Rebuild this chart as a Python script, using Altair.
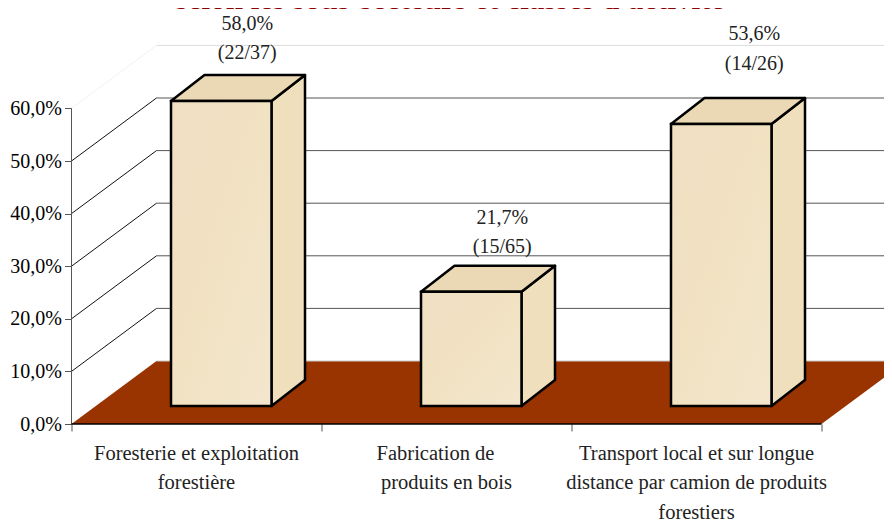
import altair as alt
import pandas as pd

# --- values ---
categories = [["Foresterie et exploitation", "forestière"],
              ["Fabrication de", "produits en bois"],
              ["Transport local et sur longue", "distance par camion de produits", "forestiers"]]
values = [58.0, 21.7, 53.6]
counts = ["(22/37)", "(15/65)", "(14/26)"]
y_ticks = [0, 10, 20, 30, 40, 50, 60]
x_ticks = [0, 1, 2, 3]
title_text = "selon les sous-secteurs et classes d'activité"

# --- layout (pixels) ---
PX_X, PX_Y = 250.0, 5.26
W, H = 812.5, 416.0
WALL_DX, WALL_DY = 85 / PX_X, 63 / PX_Y
BAR_DX, BAR_DY = 33.5 / PX_X, 26 / PX_Y
BAR_LEFT, BAR_W = 99.5 / PX_X, 100.5 / PX_X
BAR_BASE = 18 / PX_Y
label_dx = [26, 31, 33]
label_lift = [61, 58, 74]
cat_shift = {"Fabrication de": -11}
CAT_TOP, CAT_LINE = 19.5, 29.5

SERIF = "Liberation Serif"
x_scale = alt.Scale(domain=[0, W / PX_X], nice=False, zero=False)
y_scale = alt.Scale(domain=[0, H / PX_Y], nice=False, zero=False)
FRONT = alt.Gradient(gradient="linear", x1=0, y1=0, x2=1, y2=1, stops=[
    alt.GradientStop(color="#f0dfc3", offset=0),
    alt.GradientStop(color="#f1e2c2", offset=0.5),
    alt.GradientStop(color="#f3e6cd", offset=1)])
SIDE, TOP = "#efdfbd", "#ebd8b4"
X = lambda f, **k: alt.X(f, type="quantitative", scale=x_scale, axis=None, **k)
Y = lambda f, **k: alt.Y(f, type="quantitative", scale=y_scale, axis=None, **k)

# --- derived tables ---
floor = pd.DataFrame({
    "x": [0, WALL_DX, x_ticks[-1], x_ticks[-1] + WALL_DX],
    "y": [0, 0, 0, WALL_DY],
    "y2": [0, WALL_DY, WALL_DY, WALL_DY],
})
walls = pd.DataFrame({
    "v": y_ticks,
    "x0": [0.0] * 7,
    "xb": [WALL_DX] * 7,
    "xe": [W / PX_X] * 7,
    "yb": [v + WALL_DY for v in y_ticks],
})
front, side, top = [], [], []
for i, v in enumerate(values):
    x0 = i + BAR_LEFT
    x1 = x0 + BAR_W
    yb = BAR_BASE
    yt = BAR_BASE + v
    front.append({"x": x0, "x2": x1, "y": yb, "y2": yt})
    side += [{"b": i, "x": x1, "y": yb, "y2": yt},
             {"b": i, "x": x1 + BAR_DX, "y": yb + BAR_DY, "y2": yt + BAR_DY}]
    top += [{"b": i, "x": x0, "y": yt, "y2": yt},
            {"b": i, "x": x0 + BAR_DX, "y": yt, "y2": yt + BAR_DY},
            {"b": i, "x": x1, "y": yt, "y2": yt + BAR_DY},
            {"b": i, "x": x1 + BAR_DX, "y": yt + BAR_DY, "y2": yt + BAR_DY}]
front, side, top = map(pd.DataFrame, (front, side, top))

labels = pd.DataFrame({
    "x": [i + BAR_LEFT + BAR_W / 2 + label_dx[i] / PX_X for i in range(3)],
    "y": [BAR_BASE + values[i] + BAR_DY + label_lift[i] / PX_Y for i in range(3)],
    "t": [f"{str(values[i]).replace('.', ',')}%\n{counts[i]}" for i in range(3)],
})
cats = pd.DataFrame([
    {"x": i + 0.5 + cat_shift.get(t, 0) / PX_X,
     "y": -(CAT_TOP + n * CAT_LINE) / PX_Y,
     "t": t}
    for i, lines in enumerate(categories) for n, t in enumerate(lines)
])

# --- layers ---
axes = alt.Chart(pd.DataFrame({"x": [0], "y": [0]})).mark_point(opacity=0).encode(
    x=alt.X("x:Q", scale=x_scale, axis=alt.Axis(
        values=x_ticks, labels=False, title=None, grid=False, domain=False,
        ticks=True, tickColor="#555555", tickSize=7, tickWidth=1)),
    y=alt.Y("y:Q", scale=y_scale, axis=alt.Axis(
        values=y_ticks, title=None, grid=False, domain=False,
        ticks=True, tickColor="#555555", tickSize=7, tickWidth=1,
        labelExpr="replace(format(datum.value,'.1f'),'.',',')+'%'",
        labelFont=SERIF, labelFontSize=20, labelFontWeight="normal",
        labelColor="#000000", labelPadding=3)),
)

wall_data = alt.Chart(walls)
back_lines = wall_data.transform_filter("datum.v > 0 && datum.v < 60").mark_rule(
    color="#555555", strokeWidth=1).encode(x=X("xb:Q"), x2="xe:Q", y=Y("yb:Q"))
back_top = wall_data.transform_filter("datum.v == 60").mark_rule(
    color="#dddddd", strokeWidth=1).encode(x=X("xb:Q"), x2="xe:Q", y=Y("yb:Q"))
diag = wall_data.transform_filter("datum.v > 0 && datum.v < 60").mark_rule(
    color="#111111", strokeWidth=1).encode(x=X("x0:Q"), x2="xb:Q", y=Y("v:Q"), y2="yb:Q")
diag_top = wall_data.transform_filter("datum.v == 60").mark_rule(
    color="#e4e4e4", strokeWidth=1, strokeDash=[1, 1]).encode(
    x=X("x0:Q"), x2="xb:Q", y=Y("v:Q"), y2="yb:Q")

floor_l = alt.Chart(floor).mark_area(color="#993300", stroke="#993300", strokeWidth=0).encode(
    x=X("x:Q"), y=Y("y:Q", stack=None), y2="y2:Q")
floor_edge = wall_data.transform_filter("datum.v == 0").mark_rule(
    color="#c8c8c8", strokeWidth=1).encode(x=X("xb:Q"), x2="xe:Q", y=Y("yb:Q"))

y_line = alt.Chart(pd.DataFrame({"x": [0], "a": [y_ticks[0]], "b": [y_ticks[-1]]})).mark_rule(
    color="#555555", strokeWidth=1).encode(x=X("x:Q"), y=Y("a:Q"), y2="b:Q")
x_line = alt.Chart(pd.DataFrame({"a": [x_ticks[0]], "b": [x_ticks[-1]], "y": [0]})).mark_rule(
    color="#000000", strokeWidth=1.5).encode(x=X("a:Q"), x2="b:Q", y=Y("y:Q"))

side_l = alt.Chart(side).mark_area(fill=SIDE, stroke="#000000", strokeWidth=2.5, strokeJoin="round").encode(
    x=X("x:Q"), y=Y("y:Q", stack=None), y2="y2:Q", detail="b:N")
top_l = alt.Chart(top).mark_area(fill=TOP, stroke="#000000", strokeWidth=2.5, strokeJoin="round").encode(
    x=X("x:Q"), y=Y("y:Q", stack=None), y2="y2:Q", detail="b:N")
front_l = alt.Chart(front).mark_rect(fill=FRONT, stroke="#000000", strokeWidth=2.5).encode(
    x=X("x:Q"), x2="x2:Q", y=Y("y:Q"), y2="y2:Q")

val_text = alt.Chart(labels).mark_text(
    font=SERIF, fontSize=20, color="#222222", baseline="top", align="center",
    lineBreak="\n", lineHeight=29.5).encode(x=X("x:Q"), y=Y("y:Q"), text="t:N")
cat_text = alt.Chart(cats).mark_text(
    font=SERIF, fontSize=20.5, color="#222222", baseline="top", align="center").encode(
    x=X("x:Q"), y=Y("y:Q"), text="t:N")

title_l = alt.Chart(pd.DataFrame({"x": [(450 - 71.5) / PX_X], "t": [title_text]})).mark_text(
    font=SERIF, fontSize=31, fontWeight="bold", color="#8b0000", align="center",
    baseline="alphabetic").encode(
    x=X("x:Q"), y=alt.value(1), text="t:N")

chart = alt.layer(
    back_top, diag_top, back_lines, diag, floor_l, floor_edge, axes, y_line, x_line,
    side_l, top_l, front_l, val_text, cat_text, title_l,
).resolve_axis(x="independent", y="independent").properties(
    width=W, height=H,
    autosize=alt.AutoSizeParams(type="none", contains="content"),
    padding={"left": 63.5, "top": 0, "right": 0, "bottom": 96},
).configure_view(stroke=None)

chart.save("out.html", embed_options={"renderer": "svg", "actions": False})
